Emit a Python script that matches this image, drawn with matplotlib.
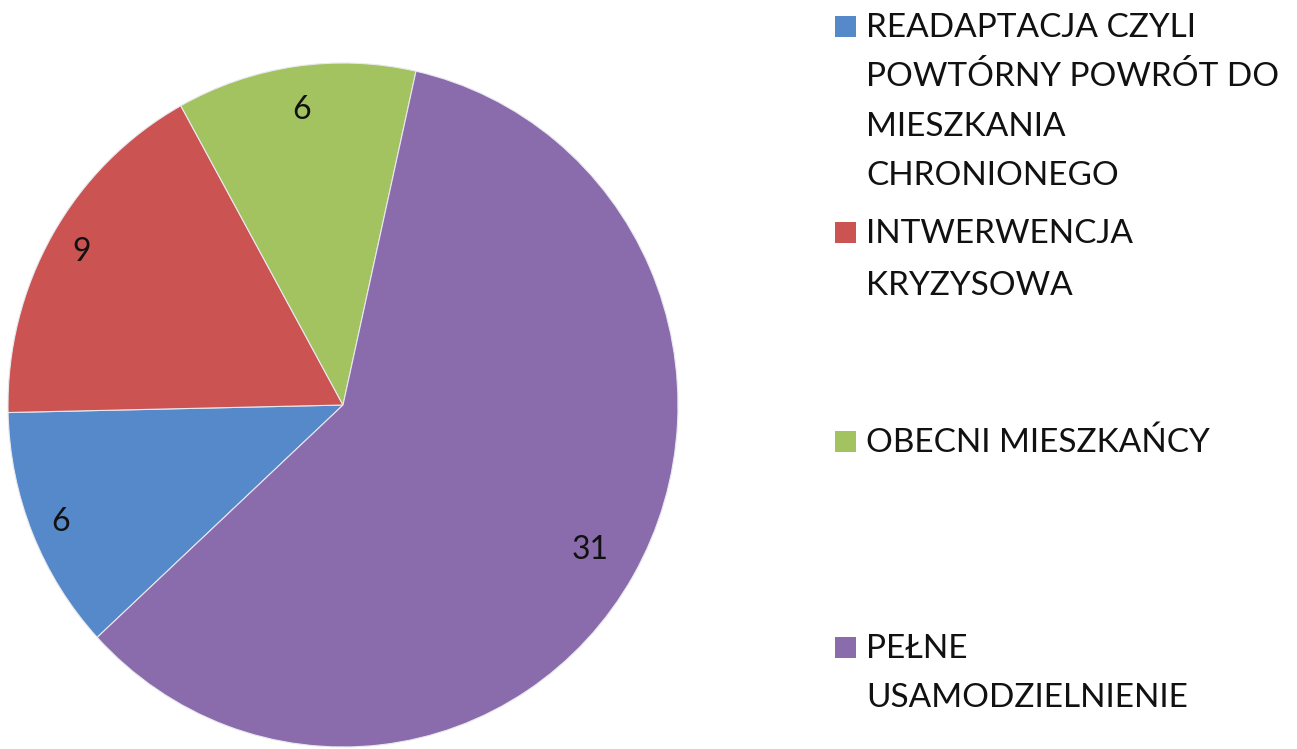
import numpy as np
import matplotlib.pyplot as plt
from matplotlib.patches import Rectangle

# data
labels = ["READAPTACJA CZYLI\nPOWTÓRNY POWRÓT DO\nMIESZKANIA\nCHRONIONEGO",
          "INTWERWENCJA\nKRYZYSOWA",
          "OBECNI MIESZKAŃCY",
          "PEŁNE\nUSAMODZIELNIENIE"]
values = [6, 9, 6, 31]
colors = ["#5589C9", "#CB5452", "#A2C35F", "#8A6CAD"]

plt.rcParams['font.family'] = ['Lato', 'DejaVu Sans']

W, H = 1297, 749
fig = plt.figure(figsize=(W / 100, H / 100), dpi=100)

# pie area (pixels): x 8..678, y 63..747
ax = fig.add_axes([8 / W, 2 / H, 670 / W, 684 / H])
wedges, texts, autotexts = ax.pie(
    values, colors=colors, startangle=-137.2, counterclock=False,
    autopct=lambda p: "%d" % round(p * sum(values) / 100),
    pctdistance=0.88, radius=1,
    wedgeprops=dict(edgecolor="#e8e8f0", linewidth=0.8),
    textprops=dict(fontsize=23, color="#111111"))
ax.set_aspect('auto')
ax.set_xlim(-1, 1)
ax.set_ylim(-1, 1)

# Excel-like "inside end" label distances
label_r = [0.91, 0.90, 0.87, 0.85]
for w, t, r in zip(wedges, autotexts, label_r):
    mid = np.deg2rad((w.theta1 + w.theta2) / 2)
    t.set_position((r * np.cos(mid), r * np.sin(mid)))

# legend drawn by hand
baselines = [[37, 86, 136, 185], [243, 295], [452], [658, 707]]
for lab, col, bl in zip(labels, colors, baselines):
    fig.patches.append(Rectangle((835 / W, 1 - bl[0] / H), 21 / W, 21 / H,
                                 transform=fig.transFigure,
                                 facecolor=col, edgecolor='none'))
    for line, y in zip(lab.split("\n"), bl):
        fig.text(866 / W, 1 - y / H, line, fontsize=24, color="#111111",
                 va='baseline', ha='left')

fig.savefig("out.png", dpi=100)
